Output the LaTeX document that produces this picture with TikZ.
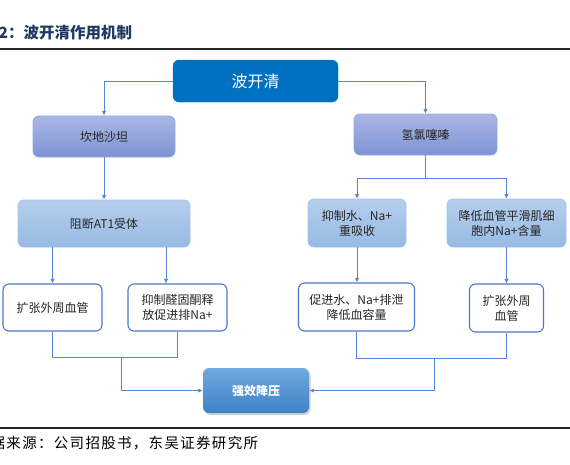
\documentclass[tikz,border=0pt]{standalone}
\usepackage{fontspec}
\newfontfamily\cjk{Noto Sans CJK SC}
\newfontfamily\cjkwide[LetterSpace=9]{Noto Sans CJK SC}
\usetikzlibrary{arrows.meta,shadows,calc}
\definecolor{topblue}{HTML}{0070C0}
\definecolor{purtop}{HTML}{AAB7E5}
\definecolor{purbot}{HTML}{7E93D3}
\definecolor{purdraw}{HTML}{8FA8E0}
\definecolor{ltop}{HTML}{B6CEEC}
\definecolor{lbot}{HTML}{96BAE3}
\definecolor{ldraw}{HTML}{A2C3E8}
\definecolor{wdraw}{HTML}{4A78CC}
\definecolor{qtop}{HTML}{72A8DE}
\definecolor{qbot}{HTML}{3D82C7}
\definecolor{conn}{HTML}{5585D6}
\definecolor{navy}{HTML}{1F3864}
\definecolor{txt}{HTML}{262626}
\begin{document}
\begin{tikzpicture}[x=1pt,y=-1pt,
  base/.style={rounded corners=6pt, align=center, inner sep=2pt, text=txt,
    font=\cjk\fontsize{12}{15}\selectfont},
  topbox/.style={base, fill=topblue, draw=topblue, text=white,
    font=\cjk\fontsize{16}{19}\selectfont},
  purbox/.style={base, top color=purtop, bottom color=purbot, draw=purdraw, line width=0.8pt},
  ltbox/.style={base, top color=ltop, bottom color=lbot, draw=ldraw, line width=0.8pt},
  whbox/.style={base, fill=white, draw=wdraw, line width=1.1pt},
  qxbox/.style={base, top color=qtop, bottom color=qbot, draw=none, text=white,
    font=\cjk\bfseries\fontsize{12}{15}\selectfont,
    drop shadow={shadow xshift=1.5pt, shadow yshift=-2pt, opacity=0.35}},
  conn/.style={draw=conn, line width=0.9pt},
  arr/.style={conn, -{Latex[length=4.5pt,width=4.5pt]}},
  rule/.style={draw=black!85, line width=1.6pt}
]
\useasboundingbox (0,0) rectangle (570,464);

% title and rules
\node[anchor=west, inner sep=0, text=navy, font=\cjk\bfseries\fontsize{15.5}{18}\selectfont] (title) at (-17,33) {图2：波开清作用机制};
\coordinate (r1a) at (0,49); \coordinate (r1b) at (570,49);
\draw[rule] (r1a) -- (r1b);
\coordinate (r2a) at (0,428); \coordinate (r2b) at (570,428);
\draw[rule] (r2a) -- (r2b);
\node[anchor=west, inner sep=0, text=black, font=\cjkwide\fontsize{14.5}{17}\selectfont] (src) at (-9.5,443) {据来源：公司招股书，东吴证券研究所};

% boxes
\node[topbox, minimum width=165pt, minimum height=42pt] (top) at (255.5,81) {波开清};
\node[purbox, minimum width=142pt, minimum height=41pt] (kd) at (104,136.5) {坎地沙坦};
\node[ltbox, minimum width=172pt, minimum height=47pt] (zd) at (104,223.5) {阻断AT1受体};
\node[whbox, minimum width=99pt, minimum height=47pt] (kz1) at (52.5,307.5) {扩张外周血管};
\node[whbox, minimum width=99pt, minimum height=47pt] (yz) at (177.5,307.5) {抑制醛固酮释\\放促进排Na+};
\node[purbox, minimum width=143pt, minimum height=41pt] (ql) at (425.5,134.5) {氢氯噻嗪};
\node[ltbox, minimum width=98pt, minimum height=48pt] (ys) at (357,223) {抑制水、Na+\\重吸收};
\node[ltbox, minimum width=119pt, minimum height=48pt] (jd) at (506.5,223) {降低血管平滑肌细\\胞内Na+含量};
\node[whbox, minimum width=116pt, minimum height=48pt] (cj) at (356.5,307) {促进水、Na+排泄\\降低血容量};
\node[whbox, minimum width=74pt, minimum height=48pt] (kz2) at (506.5,308) {扩张外周\\血管};
\node[qxbox, minimum width=106pt, minimum height=45pt] (qx) at (256,390.5) {强效降压};

% connectors: top
\draw[arr] (top.west) -| (kd.north);
\draw[arr] (top.east) -| (ql.north);
\draw[arr] (kd.south) -- (zd.north);

% left branch
\coordinate (zdl) at (kz1.north |- zd.south);
\draw[arr] (zdl) -- (kz1.north);
\coordinate (yzt) at ([xshift=-11.5pt]yz.north);
\coordinate (zdr) at (yzt |- zd.south);
\draw[arr] (zdr) -- (yzt);
\coordinate (ljl) at ($(kz1.south)+(0,26)$);
\coordinate (ljr) at (yz.south |- ljl);
\draw[conn] (kz1.south) -- (ljl) -- (ljr) -- (yz.south);
\coordinate (ljm) at (121,357);
\draw[arr] (ljm) |- (qx.west);

% right branch
\coordinate (qsp) at ($(ql.south)+(0,23)$);
\coordinate (qsl) at (ys.north |- qsp);
\coordinate (qsr) at (jd.north |- qsp);
\draw[conn] (ql.south) -- (qsp);
\draw[conn] (qsl) -- (qsr);
\draw[arr] (qsl) -- (ys.north);
\draw[arr] (qsr) -- (jd.north);
\coordinate (cjt) at (ys.south |- cj.north);
\draw[arr] (ys.south) -- (cjt);
\draw[arr] (jd.south) -- (kz2.north);
\coordinate (rjl) at (cj.south |- 0,358);
\coordinate (rjr) at (kz2.south |- 0,358);
\draw[conn] (cj.south) -- (rjl) -- (rjr) -- (kz2.south);
\coordinate (rjm) at (434,358);
\draw[arr] (rjm) |- (qx.east);
\end{tikzpicture}
\end{document}
